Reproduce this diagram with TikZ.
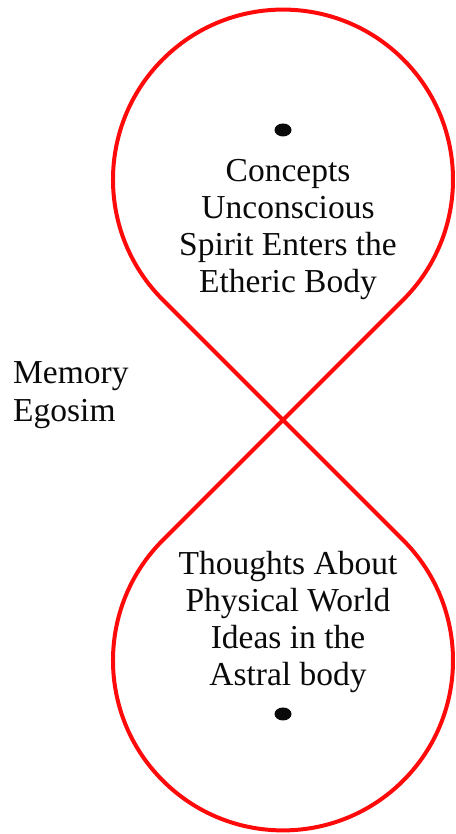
\documentclass[tikz,border=0pt]{standalone}
\usepackage{fontspec}
\setmainfont{Liberation Serif}
\usetikzlibrary{shapes.geometric}
\definecolor{loopred}{HTML}{FF0A0A}
\definecolor{inkblack}{HTML}{0A0A0A}
\tikzset{
  loopline/.style={loopred, line width=4pt, line join=round},
  centerdot/.style={ellipse, fill=inkblack, minimum width=17pt, minimum height=13pt, inner sep=0pt},
  looplabel/.style={inkblack, align=center, font=\fontsize{33.5}{37}\selectfont, inner sep=0pt},
  sidelabel/.style={inkblack, align=left, font=\fontsize{33.5}{38}\selectfont, inner sep=0pt, anchor=west}
}
\begin{document}
\begin{tikzpicture}[x=1pt,y=1pt]
  \useasboundingbox (0,0) rectangle (455,834);
  \coordinate (cross) at (283,414);
  \draw[loopline] (cross) -- ++(120.2,120.2) arc[start angle=-45, end angle=225, radius=170]
    -- (cross) -- ++(120.2,-120.2) arc[start angle=45, end angle=-225, radius=170] -- cycle;
  \node[centerdot] (topdot) at (283,704) {};
  \node[centerdot] (botdot) at (283,120) {};
  \node[looplabel] (toplabel) at (288,604) {Concepts\\Unconscious\\Spirit Enters the\\Etheric Body};
  \node[looplabel] (botlabel) at (288,212) {Thoughts About\\Physical World\\Ideas in the\\Astral body};
  \node[sidelabel] (sidelabel) at (13,439) {Memory\\Egosim};
\end{tikzpicture}
\end{document}
